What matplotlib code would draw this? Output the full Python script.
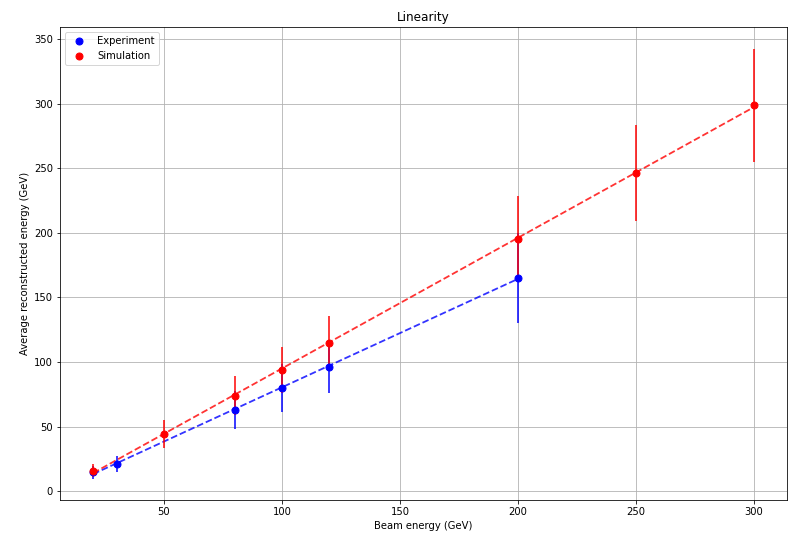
import numpy as np
import matplotlib
matplotlib.use("Agg")
import matplotlib.pyplot as plt

# Beam energies (GeV)
exp_energy = [20, 30, 80, 100, 120, 200]
sim_energy = [20, 50, 80, 100, 120, 200, 250, 300]

# Average reconstructed energy (GeV) and its spread
exp_mean = [14.8, 21.0, 63.0, 80.0, 96.5, 165.2]
exp_err = [5.0, 6.5, 14.5, 18.5, 20.5, 35.0]
sim_mean = [16.0, 44.5, 74.0, 94.0, 114.6, 195.6, 246.4, 298.8]
sim_err = [5.0, 11.0, 15.0, 18.0, 21.0, 32.7, 37.5, 44.0]

DPI = 72
fig = plt.figure(figsize=(798 / DPI, 540 / DPI), dpi=DPI)
ax = fig.add_axes([0.0752, 0.074, 0.911, 0.876])

# Linear fits
pe = np.polyfit(exp_energy, exp_mean, 1)
ps = np.polyfit(sim_energy, sim_mean, 1)

ax.errorbar(exp_energy, exp_mean, yerr=exp_err, fmt="none", ecolor="b",
            elinewidth=1.9, alpha=0.8, zorder=2)
ax.plot(exp_energy, np.polyval(pe, exp_energy), "b--", lw=1.8, alpha=0.8, zorder=2)

ax.errorbar(sim_energy, sim_mean, yerr=sim_err, fmt="none", ecolor="r",
            elinewidth=1.9, alpha=0.8, zorder=2)
ax.plot(sim_energy, np.polyval(ps, sim_energy), "r--", lw=1.8, alpha=0.8, zorder=2)

ax.plot(exp_energy, exp_mean, "bo", ms=7, label="Experiment", zorder=3)
ax.plot(sim_energy, sim_mean, "ro", ms=7, label="Simulation", zorder=4)

ax.set_title("Linearity")
ax.set_xlabel("Beam energy (GeV)")
ax.set_ylabel("Average reconstructed energy (GeV)")
ax.grid(True)
ax.legend(loc="upper left")

fig.savefig("out.png", dpi=DPI)
